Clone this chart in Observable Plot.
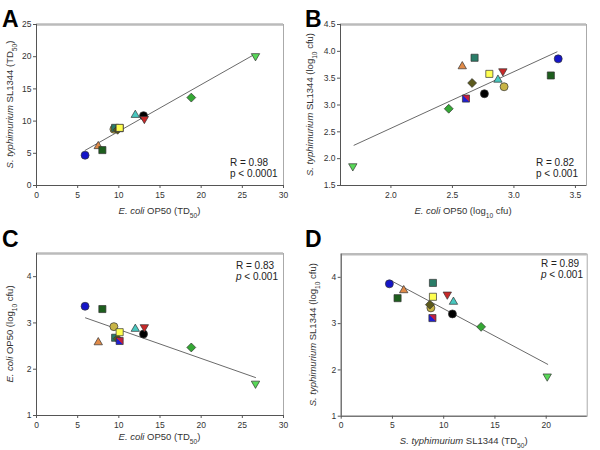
<!DOCTYPE html>
<html><head><meta charset="utf-8">
<script src="https://cdn.jsdelivr.net/npm/d3@7"></script>
<script src="https://cdn.jsdelivr.net/npm/@observablehq/plot@0.6"></script>
<style>
body{margin:0;background:#fff;}
#wrap{position:relative;width:600px;height:450px;font-family:Arial,"Liberation Sans",sans-serif;}
.panel{position:absolute;width:300px;height:225px;}
.panel svg{overflow:visible;}
</style></head><body><div id="wrap"></div>
<script>
// 13 strains (drawing order)
const strains = ["s1","s2","s3","s4","s5","s6","s7","s8","s9","s10","s11","s12","s13"];
const symbols = ["circle","triangle2","square","circle","square","diamond2","square","square","triangle2","circle","triangle2","diamond2","triangle2"];
const rotations = [0,0,0,0,0,0,0,0,0,0,180,0,180];
const fills = ["#1515c8","#e08a48","#1d5e1d","#c8b446","#2a7d68","#5c5a1c","url(#split)","#ffff50","#48c8c0","#000000","#c82828","#34a834","#58d858"];
const ecoliTD50 = [5.9,7.5,8.0,9.4,9.55,9.85,10.1,10.1,12.0,13.0,13.1,18.8,26.6];
const styphTD50 = [4.7,6.1,5.5,8.75,8.95,8.65,8.9,8.95,10.95,10.85,10.35,13.65,20.1];
const ecoliLog  = [3.36,2.58,3.30,2.92,2.68,2.66,2.61,2.80,2.87,2.76,2.91,2.47,1.69];
const styphLog  = [3.86,3.72,3.55,3.34,3.88,3.41,3.12,3.58,3.47,3.21,3.63,2.93,1.86];
// fitted regression line endpoints (x1,y1,x2,y2) per panel
const fitA = [5.9,5.45,26.4,20.3];
const fitB = [1.70,2.25,3.35,3.99];
const fitC = [5.95,3.11,26.6,1.82];
const fitD = [4.85,3.93,20.15,2.12];
const statsA = ["R = 0.98","p < 0.0001", false];
const statsB = ["R = 0.82","p < 0.001", false];
const statsC = ["R = 0.83","p < 0.001", true];
const statsD = ["R = 0.89","p < 0.001", true];
const ticksTD = [0,5,10,15,20,25,30];
const ticksTDD = [0,5,10,15,20];
const ticksLogA = [1.5,2.0,2.5,3.0,3.5,4.0,4.5];
const ticksLogB = [2.0,2.5,3.0,3.5];
const ticksLog = [1,2,3,4];

const data = strains.map((s,i)=>({s, sym:symbols[i], rot:rotations[i], fill:fills[i],
  eTD:ecoliTD50[i], sTD:styphTD50[i], eL:ecoliLog[i], sL:styphLog[i]}));

// label parts: [text, style] style: "i" italic, "sub" subscript, "" normal
const ecoTD = [["E. coli","i"],[" OP50 (TD",""],["50","sub"],[")",""]];
const ecoLog = [["E. coli","i"],[" OP50 (log",""],["10","sub"],[" cfu)",""]];
const stTD = [["S. typhimurium","i"],[" SL1344 (TD",""],["50","sub"],[")",""]];
const stLog = [["S. typhimurium","i"],[" SL1344 (log",""],["10","sub"],[" cfu)",""]];

const panels = [
  {id:"A", left:0, top:0, x:"eTD", y:"sTD", xd:[0,30], yd:[0,25], xt:ticksTD, yt:[0,5,10,15,20,25], xf:d3.format("d"), yf:d3.format("d"),
   m:[24,17,40,36], fit:fitA, stats:statsA, statsPos:[230,166], xl:ecoTD, yl:stTD, ylx:10, xly:211},
  {id:"B", left:300, top:0, x:"eL", y:"sL", xd:[1.59,3.59], yd:[1.5,4.5], xt:ticksLogB, yt:ticksLogA, xf:d3.format(".1f"), yf:d3.format(".1f"),
   m:[24,14,40,40], fit:fitB, stats:statsB, statsPos:[236,166], xl:ecoLog, yl:stLog, ylx:10, xly:211},
  {id:"C", left:0, top:225, x:"eTD", y:"eL", xd:[0,30], yd:[1,4.5], xt:ticksTD, yt:ticksLog, xf:d3.format("d"), yf:d3.format("d"),
   m:[28,17,35,36], fit:fitC, stats:statsC, statsPos:[236,44], xl:ecoTD, yl:ecoLog, ylx:10, xly:212},
  {id:"D", left:300, top:225, x:"sTD", y:"sL", xd:[0,24], yd:[1,4.5], xt:ticksTDD, yt:ticksLog, xf:d3.format("d"), yf:d3.format("d"),
   m:[28.7,13.3,34.3,40.7], fit:fitD, stats:statsD, statsPos:[241,42], xl:stTD, yl:stLog, ylx:13, xly:216}
];

const wrap = document.getElementById("wrap");

function addLabel(sel, parts, x, y, rotate, size){
  const t = sel.append("text").attr("x",x).attr("y",y)
    .attr("text-anchor","middle").attr("font-size",size).attr("fill","#333")
    .attr("font-family","Arial, 'Liberation Sans', sans-serif");
  if (rotate) t.attr("transform",`rotate(-90,${x},${y})`);
  parts.forEach(([txt,st])=>{
    const ts = t.append("tspan").text(txt);
    if (st==="i") ts.attr("font-style","italic");
    if (st==="sub") ts.attr("font-size", size*0.7).attr("baseline-shift","sub");
  });
  t.attr("dy","0.35em");
}

panels.forEach(p=>{
  const [mt,mr,mb,ml] = p.m;
  const fitData = [{x:p.fit[0],y:p.fit[1]},{x:p.fit[2],y:p.fit[3]}];
  const chart = Plot.plot({
    width:300, height:225, marginTop:mt, marginRight:mr, marginBottom:mb, marginLeft:ml,
    style:{fontFamily:"Arial, 'Liberation Sans', sans-serif", fontSize:"8.5px", color:"#333", background:"white"},
    x:{domain:p.xd, label:null},
    y:{domain:p.yd, label:null},
    marks:[
      Plot.frame({stroke:"#aaa", strokeWidth:1}),
      Plot.ruleY([p.yd[1]], {stroke:"#bbb", strokeWidth:2.5}),
      Plot.ruleX([p.xd[0]], {stroke:"#555", strokeWidth:1}),
      Plot.ruleY([p.yd[0]], {stroke:"#555", strokeWidth:1}),
      Plot.axisX({ticks:p.xt, tickFormat:p.xf, tickSize:3, tickPadding:3, stroke:"#555", fill:"#333"}),
      Plot.axisY({ticks:p.yt, tickFormat:p.yf, tickSize:3, tickPadding:2, stroke:"#555", fill:"#333"}),
      Plot.line(fitData, {x:"x", y:"y", stroke:"#6a6a6a", strokeWidth:1}),
      Plot.dot(data, {x:p.x, y:p.y, symbol:"sym", fill:"fill", rotate:"rot", r:4, stroke:"#333", strokeWidth:0.7})
    ]
  });
  const div = document.createElement("div");
  div.className = "panel";
  div.style.left = p.left+"px"; div.style.top = p.top+"px";
  div.appendChild(chart);
  wrap.appendChild(div);
  const svg = d3.select(chart);
  // gradient for split square
  const defs = svg.insert("defs", ":first-child");
  const g = defs.append("linearGradient").attr("id","split").attr("x1","0").attr("y1","1").attr("x2","1").attr("y2","0");
  g.append("stop").attr("offset","0.5").attr("stop-color","#2020d0");
  g.append("stop").attr("offset","0.5").attr("stop-color","#c02040");
  // panel letter
  svg.append("text").attr("text-anchor","start")
    .attr("x", p.id==="A"||p.id==="C"?2:5).attr("y", p.id==="A"||p.id==="B"?27:22)
    .attr("font-size",23).attr("font-weight","bold").attr("fill","#000")
    .attr("font-family","Arial, 'Liberation Sans', sans-serif").text(p.id);
  // axis labels
  const cx = ml + (300-ml-mr)/2, cy = mt + (225-mt-mb)/2;
  addLabel(svg, p.xl, cx, p.xly, false, 9.5);
  addLabel(svg, p.yl, p.ylx, cy, true, 9.5);
  // stats
  const st = svg.append("text").attr("text-anchor","start").attr("font-size",10).attr("fill","#222")
    .attr("font-family","Arial, 'Liberation Sans', sans-serif");
  st.append("tspan").attr("x",p.statsPos[0]).attr("y",p.statsPos[1]).text(p.stats[0]);
  const l2 = st.append("tspan").attr("x",p.statsPos[0]).attr("y",p.statsPos[1]+11);
  const pt = l2.append("tspan").text("p");
  if (p.stats[2]) pt.attr("font-style","italic");
  l2.append("tspan").text(p.stats[1].slice(1));
});
</script>
</body></html>
